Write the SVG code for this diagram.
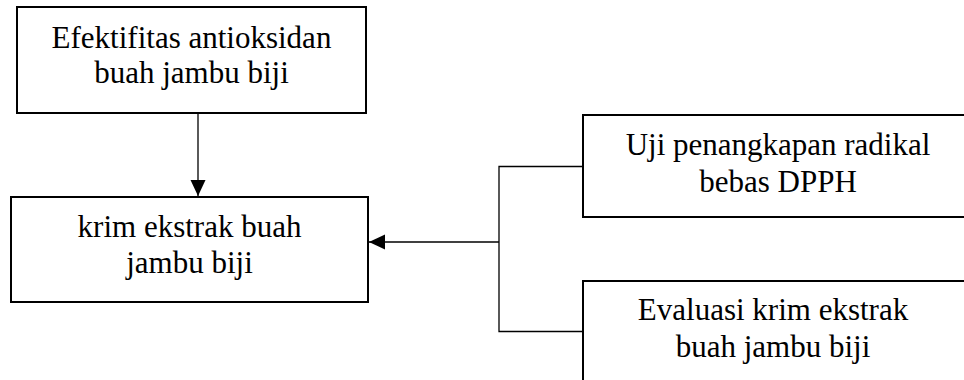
<svg xmlns="http://www.w3.org/2000/svg" width="964" height="380" viewBox="0 0 964 380">
  <style>
    .box { fill: #ffffff; stroke: #000000; stroke-width: 2; }
    .lbl { font-family: "Liberation Serif", "Times New Roman", serif; font-size: 31px; fill: #000000; text-anchor: middle; }
    .conn { fill: none; stroke: #000000; stroke-width: 1.3; }
  </style>
  <defs>
    <marker id="arrow" markerUnits="userSpaceOnUse" markerWidth="16" markerHeight="16" viewBox="0 0 16 16" refX="16" refY="8" orient="auto">
      <path d="M0,0.5 L16,8 L0,15.5 Z" fill="#000000"/>
    </marker>
  </defs>
  <rect width="964" height="380" fill="#ffffff"/>

  <g id="connectors">
    <line class="conn" x1="198" y1="113" x2="198" y2="196" marker-end="url(#arrow)"/>
    <polyline class="conn" points="583,166.5 499,166.5 499,331.5 583,331.5"/>
    <line class="conn" x1="499" y1="242" x2="369" y2="242" marker-end="url(#arrow)"/>
  </g>

  <g id="node-efektifitas">
    <rect class="box" x="17" y="7" width="349" height="106"/>
    <text class="lbl" x="191.5" y="48">Efektifitas antioksidan</text>
    <text class="lbl" x="191.5" y="83">buah jambu biji</text>
  </g>

  <g id="node-krim">
    <rect class="box" x="11" y="197" width="357" height="105"/>
    <text class="lbl" x="189.5" y="237">krim ekstrak buah</text>
    <text class="lbl" x="189.5" y="273">jambu biji</text>
  </g>

  <g id="node-uji">
    <rect class="box" x="583" y="115" width="400" height="102"/>
    <text class="lbl" x="778" y="155">Uji penangkapan radikal</text>
    <text class="lbl" x="778" y="192">bebas DPPH</text>
  </g>

  <g id="node-evaluasi">
    <rect class="box" x="583" y="281" width="400" height="120"/>
    <text class="lbl" x="773" y="320">Evaluasi krim ekstrak</text>
    <text class="lbl" x="773" y="357">buah jambu biji</text>
  </g>
</svg>
